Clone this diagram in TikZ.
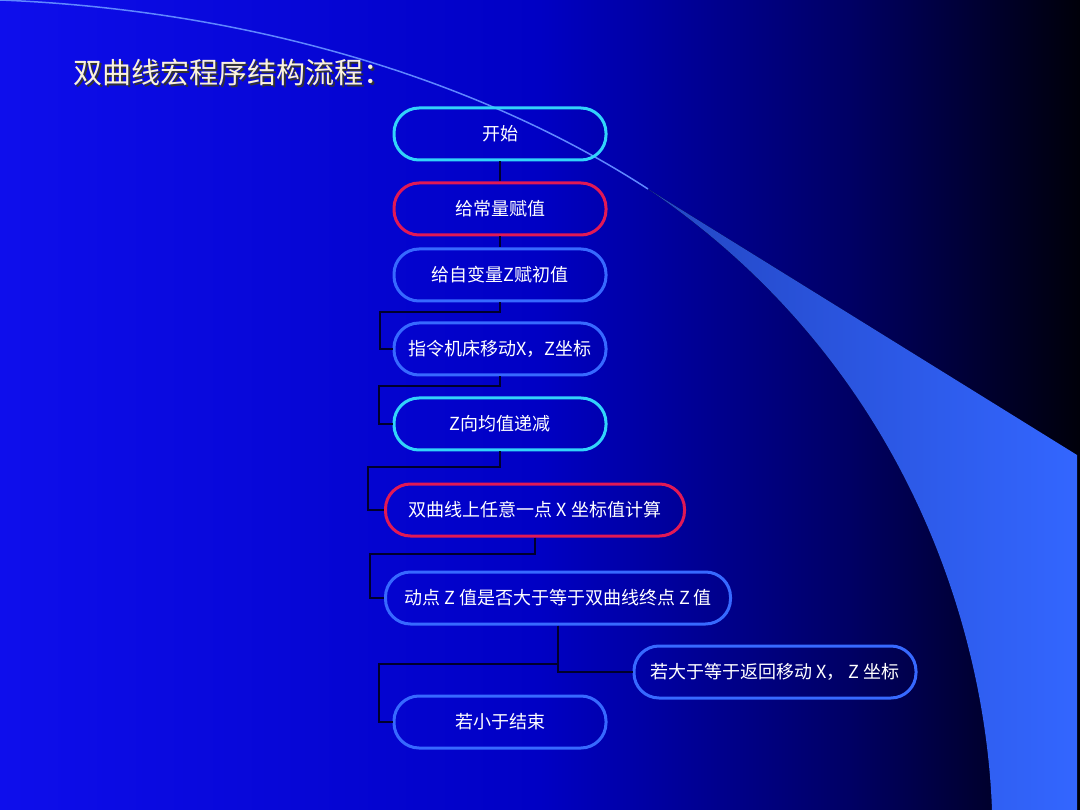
\documentclass[tikz,border=0pt]{standalone}
\usepackage{fontspec}
\newfontfamily\cjk{Noto Sans CJK SC}
\usetikzlibrary{positioning}
\definecolor{bgleft}{RGB}{14,14,236}
\definecolor{bgmid}{RGB}{0,0,196}
\definecolor{bgdeep}{RGB}{0,0,100}
\definecolor{bgright}{RGB}{0,0,10}
\definecolor{swoosh}{RGB}{51,102,255}
\definecolor{swooshdark}{RGB}{35,70,195}
\definecolor{swooshline}{RGB}{95,135,255}
\definecolor{accentcyan}{RGB}{50,212,250}
\definecolor{accentred}{RGB}{225,25,85}
\definecolor{accentblue}{RGB}{55,105,255}
\definecolor{linkdark}{RGB}{0,0,45}
\definecolor{titlecolor}{RGB}{250,242,220}

\tikzset{
    flowbox/.style={draw, line width=3pt, rounded corners=25pt, minimum height=52pt,
        minimum width=212pt, inner sep=2pt, text=white, font=\cjk\fontsize{18}{21}\selectfont},
    link/.style={draw=linkdark, line width=2pt}
}

\begin{document}
\begin{tikzpicture}[x=1pt, y=-1pt]
    \useasboundingbox (0,0) rectangle (1080,810);

    % background
    \fill[left color=bgleft, right color=bgmid] (0,0) rectangle (541,810);
    \fill[left color=bgmid, right color=bgdeep] (540,0) rectangle (851,810);
    \fill[left color=bgdeep, right color=bgright] (850,0) rectangle (1080,810);

    \fill[left color=swooshdark, right color=swoosh] (648,189) -- (1077,455) -- (1077,810) -- (992,810)
        .. controls (985,620) and (900,360) .. (648,189);
    \draw[swooshline, line width=1.5pt] (0,0) .. controls (250,10) and (480,80) .. (648,189);

    % title
    \node[anchor=west, text=black!80, font=\cjk\fontsize{29}{34}\selectfont] at (72,74) {双曲线宏程序结构流程：};
    \node[anchor=west, text=titlecolor, font=\cjk\fontsize{29}{34}\selectfont] (title) at (70,72) {双曲线宏程序结构流程：};

    % flow
    \node[flowbox, draw=accentcyan] (start) at (500,134) {开始};
    \node[flowbox, draw=accentred] (const) at (500,209) {给常量赋值};
    \node[flowbox, draw=accentblue] (varinit) at (500,275) {给自变量Z赋初值};
    \node[flowbox, draw=accentblue] (move) at (500,349) {指令机床移动X，Z坐标};
    \node[flowbox, draw=accentcyan] (step) at (500,424) {Z向均值递减};
    \node[flowbox, draw=accentred, minimum width=299pt] (calc) at (535,510) {双曲线上任意一点 X 坐标值计算};
    \node[flowbox, draw=accentblue, minimum width=345pt] (test) at (558,598) {动点 Z 值是否大于等于双曲线终点 Z 值};
    \node[flowbox, draw=accentblue, minimum width=282pt] (back) at (775,672) {若大于等于返回移动 X， Z 坐标};
    \node[flowbox, draw=accentblue] (finish) at (500,722) {若小于结束};

    \draw[link] (start) -- (const);
    \draw[link] (const) -- (varinit);
    \draw[link] (varinit.south) -- ++(0,10) -| ([xshift=-13pt]move.west) -- (move.west);
    \draw[link] (move.south) -- ++(0,10) -| ([xshift=-14pt]step.west) -- (step.west);
    \draw[link] (step.south) -- ++(0,16) -| ([xshift=-16pt]calc.west) -- (calc.west);
    \draw[link] (calc.south) -- ++(0,16) -| ([xshift=-14pt]test.west) -- (test.west);
    \draw[link] (test.south) |- (back.west);
    \draw[link] (test.south) -- ++(0,38) -| ([xshift=-14pt]finish.west) -- (finish.west);
\end{tikzpicture}
\end{document}
